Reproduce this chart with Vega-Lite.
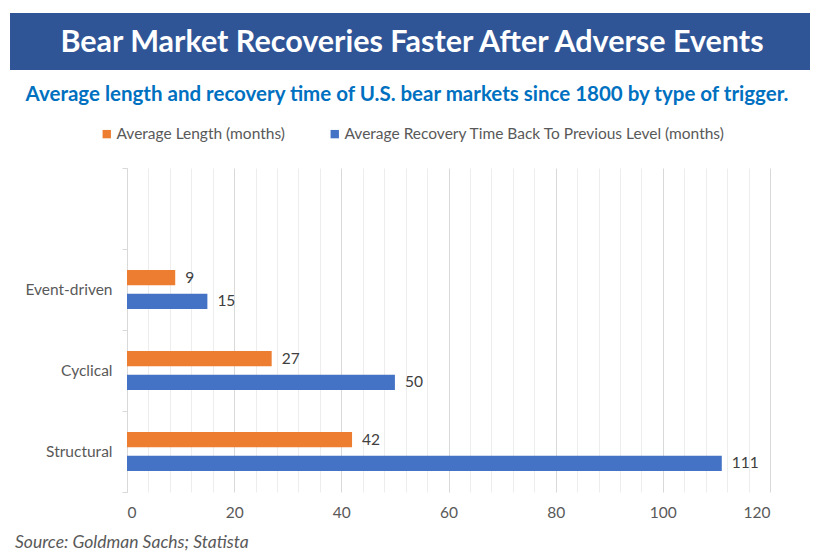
{
  "$schema": "https://vega.github.io/schema/vega-lite/v6.json",
  "padding": {"left": 10, "top": 13, "right": 0, "bottom": 0},
  "background": "white",
  "config": {"font": "Lato", "view": {"stroke": null}},
  "columns": 1,
  "bounds": "flush",
  "spacing": 0,
  "resolve": {"scale": {"color": "independent"}, "legend": {"color": "independent"}},
  "concat": [
    {
      "width": 800,
      "height": 57,
      "view": {"fill": "#2F5597", "stroke": null},
      "data": {"values": [{"t": "Bear Market Recoveries Faster After Adverse Events"}]},
      "mark": {"type": "text", "color": "white", "fontSize": 30.5, "fontWeight": "bold", "font": "Lato", "dy": 1, "dx": 2},
      "encoding": {"text": {"field": "t"}}
    },
    {
      "width": 800,
      "height": 98,
      "data": {"values": [{"t": "Average length and recovery time of U.S. bear markets since 1800 by type of trigger."}]},
      "mark": {"type": "text", "color": "#0070C0", "fontSize": 20.5, "fontWeight": "bold", "font": "Lato", "dx": -3, "dy": -24},
      "encoding": {"text": {"field": "t"}}
    },
    {
      "bounds": "flush",
      "spacing": 0,
      "resolve": {"scale": {"color": "independent"}, "legend": {"color": "independent"}},
      "hconcat": [
        {
          "width": 117,
          "height": 324,
          "data": {"values": [{"t": ""}]},
          "mark": {"type": "text"},
          "encoding": {"text": {"field": "t"}}
        },
        {
          "width": 643,
          "height": 324,
          "title": {
            "text": "Source: Goldman Sachs; Statista",
            "orient": "bottom",
            "anchor": "start",
            "frame": "group",
            "dx": -112,
            "offset": 13,
            "fontSize": 17.5,
            "fontStyle": "italic",
            "fontWeight": "normal",
            "color": "#595959",
            "font": "Lato"
          },
          "data": {
            "values": [
              {"trigger": "Event-driven", "measure": "Average Length (months)", "value": 9},
              {"trigger": "Event-driven", "measure": "Average Recovery Time Back To Previous Level (months)", "value": 15},
              {"trigger": "Cyclical", "measure": "Average Length (months)", "value": 27},
              {"trigger": "Cyclical", "measure": "Average Recovery Time Back To Previous Level (months)", "value": 50},
              {"trigger": "Structural", "measure": "Average Length (months)", "value": 42},
              {"trigger": "Structural", "measure": "Average Recovery Time Back To Previous Level (months)", "value": 111}
            ]
          },
          "encoding": {
            "y": {
              "field": "trigger",
              "type": "nominal",
              "scale": {"domain": [" ", "Event-driven", "Cyclical", "Structural"], "paddingInner": 0, "paddingOuter": 0},
              "axis": {
                "title": null,
                "tickBand": "extent",
                "domainColor": "#D9D9D9",
                "tickColor": "#D9D9D9",
                "tickSize": 5,
                "labelPadding": 10,
                "labelFontSize": 15.5,
                "labelColor": "#595959",
                "grid": false
              }
            },
            "yOffset": {
              "field": "measure",
              "type": "nominal",
              "scale": {"domain": ["Average Length (months)", "Average Recovery Time Back To Previous Level (months)"], "paddingInner": 0.36, "paddingOuter": 0.88}
            },
            "x": {
              "field": "value",
              "type": "quantitative",
              "scale": {"domain": [0, 120], "nice": false},
              "axis": {
                "title": null,
                "values": [0, 4, 8, 12, 16, 20, 24, 28, 32, 36, 40, 44, 48, 52, 56, 60, 64, 68, 72, 76, 80, 84, 88, 92, 96, 100, 104, 108, 112, 116, 120],
                "labelExpr": "datum.value % 20 === 0 ? datum.label : ''",
                "ticks": false,
                "domain": false,
                "labelPadding": 13,
                "labelFontSize": 15.5,
                "labelColor": "#595959",
                "grid": true,
                "gridColor": {"condition": {"test": "datum.value % 20 === 0", "value": "#D9D9D9"}, "value": "#EDEDED"}
              }
            }
          },
          "layer": [
            {
              "mark": {"type": "bar"},
              "encoding": {
                "color": {
                  "field": "measure",
                  "type": "nominal",
                  "scale": {"domain": ["Average Length (months)", "Average Recovery Time Back To Previous Level (months)"], "range": ["#ED7D31", "#4472C4"]},
                  "legend": {
                    "title": null,
                    "orient": "none",
                    "legendX": -28,
                    "legendY": -42,
                    "direction": "horizontal",
                    "symbolType": "square",
                    "symbolSize": 70,
                    "labelFontSize": 15.5,
                    "labelColor": "#595959",
                    "labelOffset": 2,
                    "labelLimit": 500,
                    "columnPadding": 42,
                    "padding": 0
                  }
                }
              }
            },
            {
              "mark": {"type": "text", "align": "left", "baseline": "middle", "dx": 10, "fontSize": 15.5, "color": "#404040"},
              "encoding": {"text": {"field": "value", "type": "quantitative"}}
            }
          ]
        }
      ]
    }
  ]
}
